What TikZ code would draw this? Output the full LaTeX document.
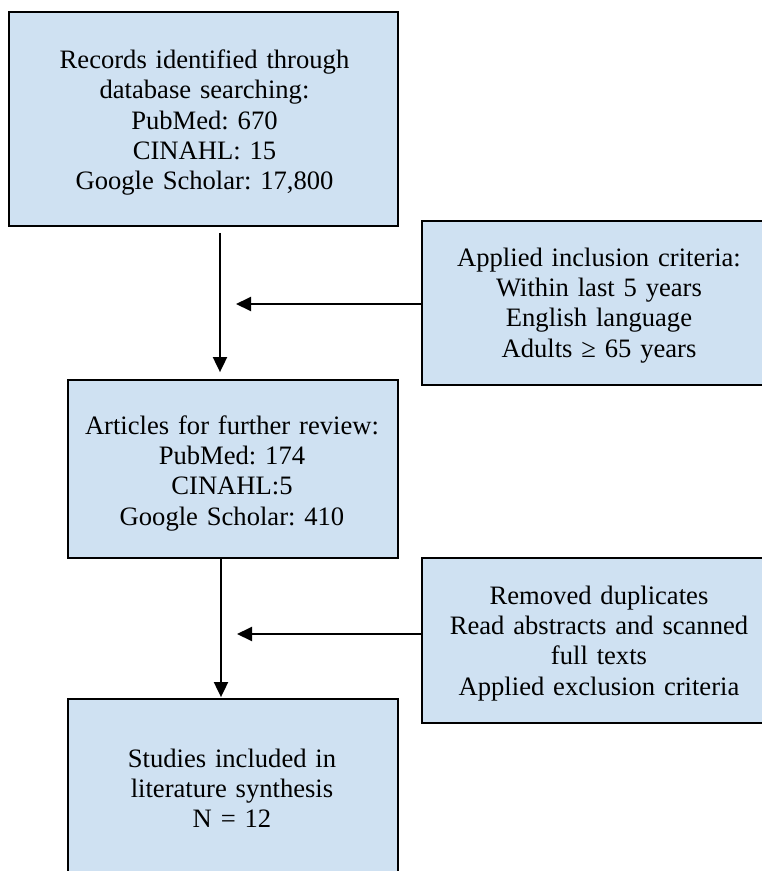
\documentclass[tikz,border=0pt]{standalone}
\usepackage{fontspec}
\setmainfont{Liberation Serif}
\usetikzlibrary{arrows.meta}
\definecolor{boxfill}{HTML}{CFE1F2}
\tikzset{
  box/.style={draw=black, fill=boxfill, line width=1.8pt, rectangle, inner sep=0pt, anchor=center},
  txt/.style={align=center, anchor=base, inner sep=0pt, text width=380pt,
    font=\fontsize{26.6}{30.4}\selectfont\frenchspacing},
  arr/.style={line width=1.9pt, -{Triangle[length=15pt,width=14pt]}},
}
\begin{document}
\begin{tikzpicture}[x=1pt,y=-1pt]
\useasboundingbox (0,0) rectangle (762,871);
\clip (0,0) rectangle (762,871);
\fill[white] (0,0) rectangle (762,871);
% boxes
\node[box, minimum width=389pt, minimum height=214pt] (b1) at (203.5,119) {};
\node[box, minimum width=354pt, minimum height=164pt] (inc) at (599,303) {};
\node[box, minimum width=330pt, minimum height=178pt] (b2) at (233,469) {};
\node[box, minimum width=354pt, minimum height=165pt] (rem) at (599,640.5) {};
\node[box, minimum width=330pt, minimum height=202pt] (b3) at (233,800) {};
% texts
\node[txt] (b1t) at (204.5,68.3) {Records identified through\\database searching:\\PubMed: 670\\CINAHL: 15\\Google Scholar: 17,800};
\node[txt] (inct) at (599,266) {Applied inclusion criteria:\\Within last 5 years\\English language\\Adults ≥ 65 years};
\node[txt] (b2t) at (232,434) {Articles for further review:\\PubMed: 174\\CINAHL:5\\Google Scholar: 410};
\node[txt] (remt) at (599,604) {Removed duplicates\\Read abstracts and scanned\\full texts\\Applied exclusion criteria};
\node[txt] (b3t) at (232,767) {Studies included in\\literature synthesis\\N = 12};
% connector guides
\coordinate (x1) at (220,0);
\coordinate (x2) at (221,0);
\coordinate (h1) at (236,304);
\coordinate (h2) at (237,634);
% connectors
\draw[arr] ([yshift=-6pt]b1.south -| x1) -- ([yshift=7pt]b2.north -| x1);
\draw[arr] (inc.west |- h1) -- (h1);
\draw[arr] (b2.south -| x2) -- ([yshift=1pt]b3.north -| x2);
\draw[arr] (rem.west |- h2) -- (h2);
\end{tikzpicture}
\end{document}
